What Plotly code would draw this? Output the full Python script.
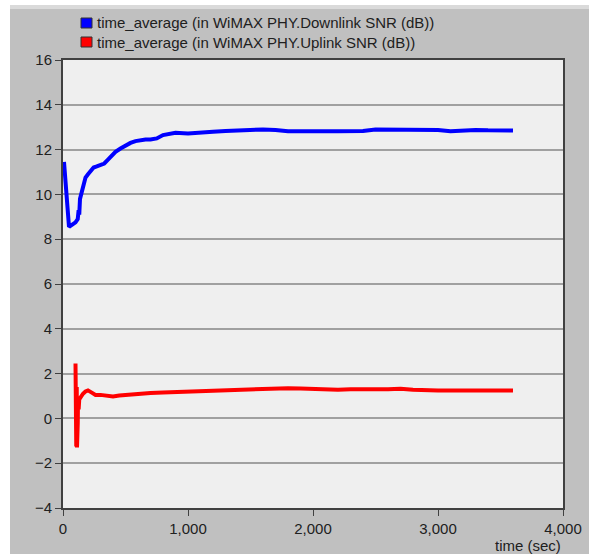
import plotly.graph_objects as go

# Downlink SNR time average (dB)
dl_time = [8, 48, 100, 118, 125, 130, 136, 145, 155, 165, 180, 200, 220, 245, 270, 300, 330,
           360, 390, 420, 460, 500, 540, 580, 620, 660, 700, 750, 800, 850, 900, 1000, 1100,
           1200, 1300, 1400, 1500, 1600, 1700, 1800, 1900, 2000, 2100, 2200, 2300, 2400, 2500,
           2600, 2700, 2800, 2900, 3000, 3100, 3200, 3300, 3400, 3500, 3600]
dl_snr = [11.45, 8.55, 8.75, 8.9, 9.3, 9.1, 9.8, 10.0, 10.3, 10.6, 10.75, 10.9, 11.05, 11.2, 11.25,
          11.3, 11.38, 11.55, 11.75, 11.9, 12.05, 12.2, 12.3, 12.38, 12.42, 12.45, 12.45, 12.5,
          12.65, 12.72, 12.75, 12.72, 12.78, 12.8, 12.83, 12.85, 12.85, 12.9, 12.87, 12.82, 12.82,
          12.8, 12.82, 12.82, 12.84, 12.83, 12.9, 12.9, 12.9, 12.9, 12.9, 12.88, 12.82, 12.86,
          12.88, 12.86, 12.87, 12.85]

# Uplink SNR time average (dB)
ul_time = [100, 103, 106, 108, 110, 112, 114, 116, 118, 120, 125, 130, 140, 160, 180, 200, 230,
           260, 300, 350, 400, 450, 500, 600, 700, 800, 900, 1000, 1100, 1200, 1300, 1400, 1500,
           1600, 1700, 1800, 1900, 2000, 2100, 2200, 2300, 2400, 2500, 2600, 2700, 2800, 2900,
           3000, 3100, 3200, 3300, 3400, 3500, 3600]
ul_snr = [2.45, 0.3, -1.25, -0.5, 1.4, -1.3, 0.0, 0.9, -0.2, 0.8, 0.4, 0.85, 0.95, 1.1, 1.2, 1.25,
          1.15, 1.05, 1.05, 1.0, 0.98, 1.02, 1.05, 1.1, 1.13, 1.16, 1.18, 1.2, 1.22, 1.22, 1.25,
          1.25, 1.27, 1.3, 1.33, 1.35, 1.33, 1.3, 1.3, 1.28, 1.3, 1.32, 1.3, 1.3, 1.32, 1.28,
          1.25, 1.25, 1.25, 1.27, 1.25, 1.25, 1.25, 1.24]

legend_labels = ['time_average (in WiMAX PHY.Downlink SNR (dB))',
                 'time_average (in WiMAX PHY.Uplink SNR (dB))']
colors = ['#0000ff', '#ff0000']

W, H = 589, 554
L, R, T, B = 63, 26, 60, 46
pw, ph = W - L - R, H - T - B

def px(x):
    return (x - L) / pw

def py(y):
    return (H - B - y) / ph

fig = go.Figure()
fig.add_trace(go.Scatter(x=dl_time, y=dl_snr, mode='lines',
                         line=dict(color=colors[0], width=4), showlegend=False))
fig.add_trace(go.Scatter(x=ul_time, y=ul_snr, mode='lines',
                         line=dict(color=colors[1], width=4), showlegend=False))

shapes = [
    # white strips around the grey panel
    dict(type='rect', xref='paper', yref='paper', x0=px(0), x1=px(W), y0=py(5), y1=py(0),
         fillcolor='white', line_width=0),
    dict(type='rect', xref='paper', yref='paper', x0=px(10), x1=px(W), y0=py(9), y1=py(5),
         fillcolor='#dadada', line_width=0),
    dict(type='rect', xref='paper', yref='paper', x0=px(0), x1=px(10), y0=py(H), y1=py(0),
         fillcolor='white', line_width=0),
]
annotations = []
for i, (lab, c) in enumerate(zip(legend_labels, colors)):
    cy = 23 + 19 * i
    shapes.append(dict(type='rect', xref='paper', yref='paper',
                       x0=px(81), x1=px(92), y0=py(cy + 5), y1=py(cy - 5),
                       fillcolor=c, line=dict(color='#303030', width=1)))
    annotations.append(dict(text=lab, xref='paper', yref='paper', x=px(95), y=py(cy),
                            xanchor='left', yanchor='middle', showarrow=False,
                            font=dict(size=15, color='#202020')))
annotations.append(dict(text='time (sec)', xref='paper', yref='paper', x=1.0, y=py(545),
                        xanchor='right', yanchor='middle', showarrow=False,
                        font=dict(size=15, color='#202020')))

fig.update_layout(
    width=W, height=H, autosize=False,
    margin=dict(l=L, r=R, t=T, b=B),
    paper_bgcolor='#c0c0c0',
    plot_bgcolor='#efefef',
    font=dict(family='Liberation Sans, Arial, sans-serif', size=15, color='#202020'),
    shapes=shapes,
    annotations=annotations,
    xaxis=dict(range=[0, 4000], dtick=1000, tickformat=',d', showgrid=False, zeroline=False,
               ticks='outside', ticklen=6, tickcolor='#404040', automargin=False,
               showline=True, mirror=True, linecolor='#404040', linewidth=2),
    yaxis=dict(range=[-4, 16], dtick=2, showgrid=True, gridcolor='#a0a0a0', gridwidth=1.5,
               zeroline=False, ticks='outside', ticklen=6, tickcolor='#404040', automargin=False,
               showline=True, mirror=True, linecolor='#404040', linewidth=2),
)

page_css = (
    "var s=document.createElement('style');"
    "s.textContent='html,body{margin:0;padding:0;overflow:hidden;}';"
    "document.head.appendChild(s);"
)
fig.write_html('out.html',
               config={'responsive': False, 'displayModeBar': False},
               post_script=page_css)
